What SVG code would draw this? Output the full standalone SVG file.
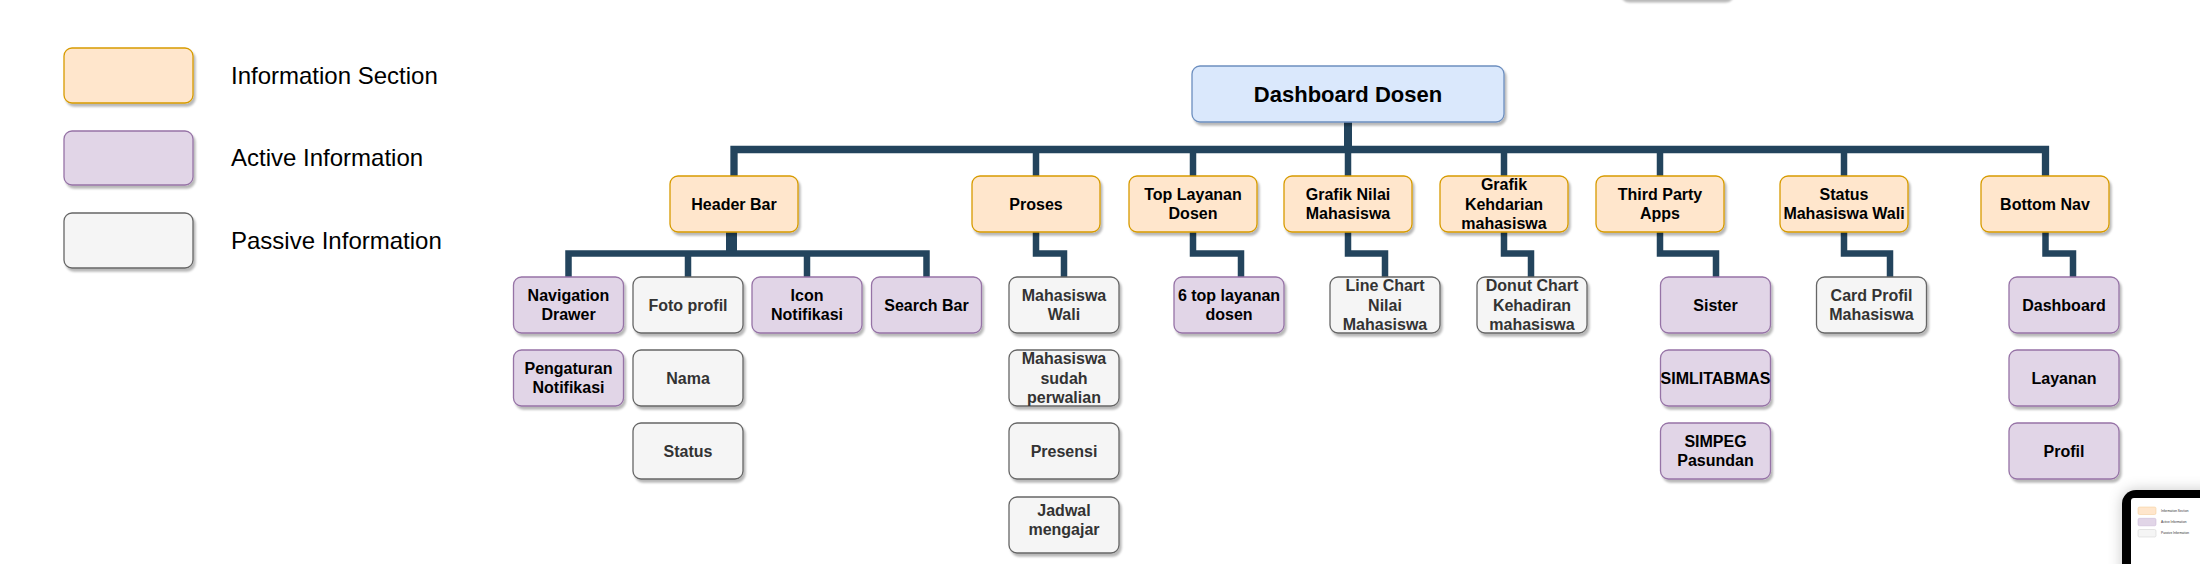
<svg xmlns="http://www.w3.org/2000/svg" width="2200" height="564" viewBox="0 0 2200 564">
<defs>
<filter id="sh" x="-10%" y="-10%" width="130%" height="140%">
<feDropShadow dx="2" dy="3" stdDeviation="1" flood-color="#000" flood-opacity="0.28"/>
</filter>
<filter id="soft" x="-30%" y="-30%" width="160%" height="160%">
<feDropShadow dx="0" dy="0" stdDeviation="7" flood-color="#000" flood-opacity="0.22"/>
</filter>
<style>
text{font-family:"Liberation Sans",Arial,Helvetica,sans-serif;}
.node rect{stroke-width:1.3;filter:url(#sh);}
.node text{font-size:16px;font-weight:bold;text-anchor:middle;fill:#000;}
.sec rect{fill:#ffe6cc;stroke:#d79b00;}
.act rect{fill:#e1d5e7;stroke:#9673a6;}
.pas rect{fill:#f5f5f5;stroke:#666666;}
.pas text{fill:#333333;}
.root rect{fill:#dae8fc;stroke:#6c8ebf;}
.root text{font-size:22px;}
.legend text{font-size:24px;fill:#000;}
.edges path{fill:none;stroke:#23445d;stroke-width:6.5;stroke-linejoin:miter;}
.mini text{font-size:3.2px;fill:#333;}
</style>
</defs>

<!-- partial element at top edge -->
<rect x="1619" y="-57" width="113" height="56" rx="8" fill="#f5f5f5" stroke="#666" filter="url(#sh)"/>

<!-- legend -->
<g id="legend" class="legend">
<g id="legend-section" class="node sec"><rect x="64" y="48" width="129" height="55" rx="8"/></g>
<text x="231" y="84">Information Section</text>
<g id="legend-active" class="node act"><rect x="64" y="131" width="129" height="54" rx="8"/></g>
<text x="231" y="166">Active Information</text>
<g id="legend-passive" class="node pas"><rect x="64" y="213" width="129" height="55" rx="8"/></g>
<text x="231" y="249">Passive Information</text>
</g>

<!-- connectors -->
<g id="connectors" class="edges">
<path d="M1348,122 V150" style="stroke-width:8"/>
<path d="M734,176 V149.5 H2045.5 V176" style="stroke-width:7.3"/>
<path d="M1036,149.5 V176"/>
<path d="M1193,149.5 V176"/>
<path d="M1348,149.5 V176"/>
<path d="M1504,149.5 V176"/>
<path d="M1660,149.5 V176"/>
<path d="M1844,149.5 V176"/>
<!-- header bar children -->
<path d="M731.5,232 V254" style="stroke-width:11"/>
<path d="M568.5,277 V253.5 H926.5 V277"/>
<path d="M688,253.5 V277"/>
<path d="M807,253.5 V277"/>
<!-- other children -->
<path d="M1036,232 V253.5 H1064 V277"/>
<path d="M1193,232 V253.5 H1241 V277"/>
<path d="M1348,232 V253.5 H1385 V277"/>
<path d="M1504,232 V253.5 H1531 V277"/>
<path d="M1660,232 V253.5 H1716 V277"/>
<path d="M1844,232 V253.5 H1890 V277"/>
<path d="M2045.5,232 V253.5 H2073 V277"/>
</g>

<!-- root -->
<g id="dashboard-dosen" class="node root"><rect x="1192" y="66" width="312" height="56" rx="8"/><text x="1348" y="101.7">Dashboard Dosen</text></g>

<!-- level 1 -->
<g id="header-bar" class="node sec"><rect x="670" y="176" width="128" height="56" rx="8"/><text x="734" y="209.5">Header Bar</text></g>
<g id="proses" class="node sec"><rect x="972" y="176" width="128" height="56" rx="8"/><text x="1036" y="209.5">Proses</text></g>
<g id="top-layanan-dosen" class="node sec"><rect x="1129" y="176" width="128" height="56" rx="8"/><text x="1193" y="199.9"><tspan x="1193">Top Layanan</tspan><tspan x="1193" dy="19.2">Dosen</tspan></text></g>
<g id="grafik-nilai" class="node sec"><rect x="1284" y="176" width="128" height="56" rx="8"/><text x="1348" y="199.9"><tspan x="1348">Grafik Nilai</tspan><tspan x="1348" dy="19.2">Mahasiswa</tspan></text></g>
<g id="grafik-kehadiran" class="node sec"><rect x="1440" y="176" width="128" height="56" rx="8"/><text x="1504" y="190.3"><tspan x="1504">Grafik</tspan><tspan x="1504" dy="19.2">Kehdarian</tspan><tspan x="1504" dy="19.2">mahasiswa</tspan></text></g>
<g id="third-party-apps" class="node sec"><rect x="1596" y="176" width="128" height="56" rx="8"/><text x="1660" y="199.9"><tspan x="1660">Third Party</tspan><tspan x="1660" dy="19.2">Apps</tspan></text></g>
<g id="status-mahasiswa-wali" class="node sec"><rect x="1780" y="176" width="128" height="56" rx="8"/><text x="1844" y="199.9"><tspan x="1844">Status</tspan><tspan x="1844" dy="19.2">Mahasiswa Wali</tspan></text></g>
<g id="bottom-nav" class="node sec"><rect x="1981" y="176" width="128" height="56" rx="8"/><text x="2045" y="209.5">Bottom Nav</text></g>

<!-- header bar children -->
<g id="navigation-drawer" class="node act"><rect x="513.5" y="277" width="110" height="56" rx="8"/><text x="568.5" y="300.9"><tspan x="568.5">Navigation</tspan><tspan x="568.5" dy="19.2">Drawer</tspan></text></g>
<g id="pengaturan-notifikasi" class="node act"><rect x="513.5" y="350" width="110" height="56" rx="8"/><text x="568.5" y="373.9"><tspan x="568.5">Pengaturan</tspan><tspan x="568.5" dy="19.2">Notifikasi</tspan></text></g>
<g id="foto-profil" class="node pas"><rect x="633" y="277" width="110" height="56" rx="8"/><text x="688" y="310.5">Foto profil</text></g>
<g id="nama" class="node pas"><rect x="633" y="350" width="110" height="56" rx="8"/><text x="688" y="383.5">Nama</text></g>
<g id="status" class="node pas"><rect x="633" y="423" width="110" height="56" rx="8"/><text x="688" y="456.5">Status</text></g>
<g id="icon-notifikasi" class="node act"><rect x="752" y="277" width="110" height="56" rx="8"/><text x="807" y="300.9"><tspan x="807">Icon</tspan><tspan x="807" dy="19.2">Notifikasi</tspan></text></g>
<g id="search-bar" class="node act"><rect x="871.5" y="277" width="110" height="56" rx="8"/><text x="926.5" y="310.5">Search Bar</text></g>

<!-- proses children -->
<g id="mahasiswa-wali" class="node pas"><rect x="1009" y="277" width="110" height="56" rx="8"/><text x="1064" y="300.9"><tspan x="1064">Mahasiswa</tspan><tspan x="1064" dy="19.2">Wali</tspan></text></g>
<g id="mahasiswa-sudah-perwalian" class="node pas"><rect x="1009" y="350" width="110" height="56" rx="8"/><text x="1064" y="364.3"><tspan x="1064">Mahasiswa</tspan><tspan x="1064" dy="19.2">sudah</tspan><tspan x="1064" dy="19.2">perwalian</tspan></text></g>
<g id="presensi" class="node pas"><rect x="1009" y="423" width="110" height="56" rx="8"/><text x="1064" y="456.5">Presensi</text></g>
<g id="jadwal-mengajar" class="node pas"><rect x="1009" y="497" width="110" height="56" rx="8"/><text x="1064" y="515.9"><tspan x="1064">Jadwal</tspan><tspan x="1064" dy="19.2">mengajar</tspan></text></g>

<!-- other children -->
<g id="top-layanan" class="node act"><rect x="1174" y="277" width="110" height="56" rx="8"/><text x="1229" y="300.9"><tspan x="1229">6 top layanan</tspan><tspan x="1229" dy="19.2">dosen</tspan></text></g>
<g id="line-chart" class="node pas"><rect x="1330" y="277" width="110" height="56" rx="8"/><text x="1385" y="291.3"><tspan x="1385">Line Chart</tspan><tspan x="1385" dy="19.2">Nilai</tspan><tspan x="1385" dy="19.2">Mahasiswa</tspan></text></g>
<g id="donut-chart" class="node pas"><rect x="1477" y="277" width="110" height="56" rx="8"/><text x="1532" y="291.3"><tspan x="1532">Donut Chart</tspan><tspan x="1532" dy="19.2">Kehadiran</tspan><tspan x="1532" dy="19.2">mahasiswa</tspan></text></g>
<g id="sister" class="node act"><rect x="1660.5" y="277" width="110" height="56" rx="8"/><text x="1715.5" y="310.5">Sister</text></g>
<g id="simlitabmas" class="node act"><rect x="1660.5" y="350" width="110" height="56" rx="8"/><text x="1715.5" y="383.5">SIMLITABMAS</text></g>
<g id="simpeg-pasundan" class="node act"><rect x="1660.5" y="423" width="110" height="56" rx="8"/><text x="1715.5" y="446.9"><tspan x="1715.5">SIMPEG</tspan><tspan x="1715.5" dy="19.2">Pasundan</tspan></text></g>
<g id="card-profil" class="node pas"><rect x="1816.5" y="277" width="110" height="56" rx="8"/><text x="1871.5" y="300.9"><tspan x="1871.5">Card Profil</tspan><tspan x="1871.5" dy="19.2">Mahasiswa</tspan></text></g>
<g id="dashboard" class="node act"><rect x="2009" y="277" width="110" height="56" rx="8"/><text x="2064" y="310.5">Dashboard</text></g>
<g id="layanan" class="node act"><rect x="2009" y="350" width="110" height="56" rx="8"/><text x="2064" y="383.5">Layanan</text></g>
<g id="profil" class="node act"><rect x="2009" y="423" width="110" height="56" rx="8"/><text x="2064" y="456.5">Profil</text></g>

<!-- device preview (partially visible) -->
<g id="device-preview" class="mini">
<rect x="2122" y="490" width="160" height="120" rx="14" fill="#000" filter="url(#soft)"/>
<rect x="2131" y="498" width="140" height="100" rx="3" fill="#fff"/>
<rect x="2138" y="507" width="18" height="7.5" rx="1.5" fill="#ffe6cc" stroke="#f0c890" stroke-width="0.5"/>
<rect x="2138" y="518.3" width="18" height="7.5" rx="1.5" fill="#e1d5e7" stroke="#c7b3d2" stroke-width="0.5"/>
<rect x="2138" y="529.5" width="18" height="7.5" rx="1.5" fill="#f5f5f5" stroke="#cccccc" stroke-width="0.5"/>
<text x="2161" y="511.8">Information Section</text>
<text x="2161" y="523.2">Active Information</text>
<text x="2161" y="534.4">Passive Information</text>
</g>
</svg>
